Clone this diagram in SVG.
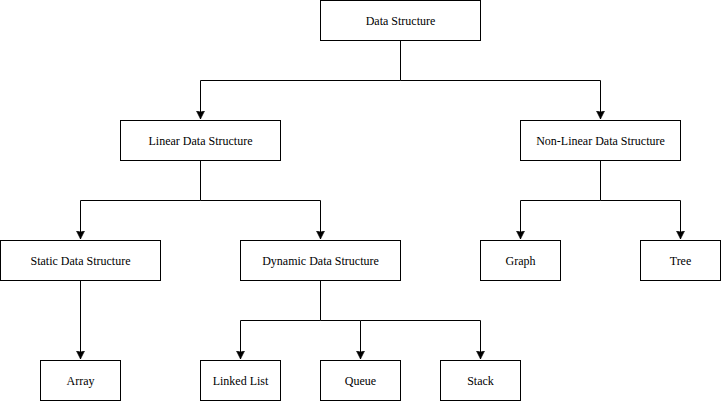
<svg xmlns="http://www.w3.org/2000/svg" width="721" height="402" viewBox="0 0 721 402">
<style>
.box{fill:#fff;stroke:#000;stroke-width:1}
.lbl{font-family:"Liberation Serif","DejaVu Serif","Times New Roman",serif;font-size:12px;fill:#000;text-anchor:middle}
.edge{fill:none;stroke:#000;stroke-width:1}
</style>
<defs>
<marker id="arr" markerWidth="10" markerHeight="10" refX="8" refY="4.5" orient="auto" markerUnits="userSpaceOnUse">
<path d="M0,0.5 L8,4.5 L0,8.5 L1,4.5 Z" fill="#000" stroke="#000" stroke-width="0.6" stroke-linejoin="miter"/>
</marker>
</defs>
<rect width="721" height="402" fill="#fff"/>
<g id="connectors">
<path class="edge" d="M400.5,40.5 V80.5 H200.5 V119" marker-end="url(#arr)"/>
<path class="edge" d="M400.5,80.5 H600.5 V119" marker-end="url(#arr)"/>
<path class="edge" d="M200.5,160.5 V200.5 H80.5 V239" marker-end="url(#arr)"/>
<path class="edge" d="M200.5,200.5 H320.5 V239" marker-end="url(#arr)"/>
<path class="edge" d="M600.5,160.5 V200.5 H520.5 V239" marker-end="url(#arr)"/>
<path class="edge" d="M600.5,200.5 H680.5 V239" marker-end="url(#arr)"/>
<path class="edge" d="M80.5,280.5 V359" marker-end="url(#arr)"/>
<path class="edge" d="M320.5,280.5 V320.5 H240.5 V359" marker-end="url(#arr)"/>
<path class="edge" d="M320.5,320.5 H360.5 V359" marker-end="url(#arr)"/>
<path class="edge" d="M360.5,320.5 H480.5 V359" marker-end="url(#arr)"/>
</g>
<g id="n-ds"><rect class="box" x="320.5" y="0.5" width="160" height="40"/><text class="lbl" x="400.5" y="24.5">Data Structure</text></g>
<g id="n-linear"><rect class="box" x="120.5" y="120.5" width="160" height="40"/><text class="lbl" x="200.5" y="144.5">Linear Data Structure</text></g>
<g id="n-nonlinear"><rect class="box" x="520.5" y="120.5" width="160" height="40"/><text class="lbl" x="600.5" y="144.5">Non-Linear Data Structure</text></g>
<g id="n-static"><rect class="box" x="0.5" y="240.5" width="160" height="40"/><text class="lbl" x="80.5" y="264.5">Static Data Structure</text></g>
<g id="n-dynamic"><rect class="box" x="240.5" y="240.5" width="160" height="40"/><text class="lbl" x="320.5" y="264.5">Dynamic Data Structure</text></g>
<g id="n-graph"><rect class="box" x="480.5" y="240.5" width="80" height="40"/><text class="lbl" x="520.5" y="264.5">Graph</text></g>
<g id="n-tree"><rect class="box" x="640.5" y="240.5" width="80" height="40"/><text class="lbl" x="680.5" y="264.5">Tree</text></g>
<g id="n-array"><rect class="box" x="40.5" y="360.5" width="80" height="40"/><text class="lbl" x="80.5" y="384.5">Array</text></g>
<g id="n-linked"><rect class="box" x="200.5" y="360.5" width="80" height="40"/><text class="lbl" x="240.5" y="384.5">Linked List</text></g>
<g id="n-queue"><rect class="box" x="320.5" y="360.5" width="80" height="40"/><text class="lbl" x="360.5" y="384.5">Queue</text></g>
<g id="n-stack"><rect class="box" x="440.5" y="360.5" width="80" height="40"/><text class="lbl" x="480.5" y="384.5">Stack</text></g>
</svg>
